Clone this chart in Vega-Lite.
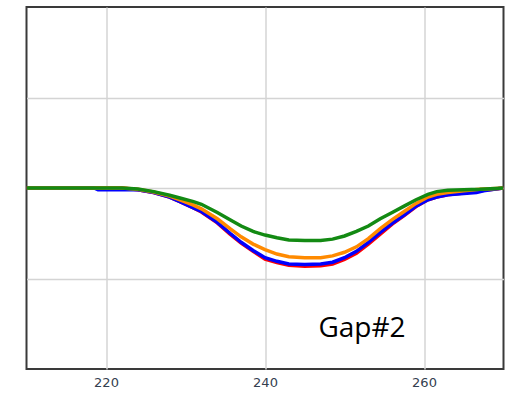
{
  "$schema": "https://vega.github.io/schema/vega-lite/v6.json",
  "width": 477,
  "height": 362,
  "autosize": {"type": "none"},
  "padding": {"left": 26.5, "top": 7, "right": 9.5, "bottom": 24},
  "background": "white",
  "config": {
    "view": {"stroke": "#3a3a3a", "strokeWidth": 2},
    "axis": {"gridColor": "#d4d4d4", "gridWidth": 1.5, "gridOpacity": 1}
  },
  "datasets": {
    "curves": [
      {"s": "r", "x": 210, "y": 0}, {"s": "r", "x": 222, "y": 0}, {"s": "r", "x": 224, "y": -0.02}, {"s": "r", "x": 226, "y": -0.05}, {"s": "r", "x": 228, "y": -0.1}, {"s": "r", "x": 229.3, "y": -0.15}, {"s": "r", "x": 231, "y": -0.22}, {"s": "r", "x": 232, "y": -0.265}, {"s": "r", "x": 234, "y": -0.385}, {"s": "r", "x": 235.6, "y": -0.51}, {"s": "r", "x": 237, "y": -0.61}, {"s": "r", "x": 238.5, "y": -0.7}, {"s": "r", "x": 240, "y": -0.785}, {"s": "r", "x": 241.5, "y": -0.825}, {"s": "r", "x": 243, "y": -0.855}, {"s": "r", "x": 245, "y": -0.865}, {"s": "r", "x": 247, "y": -0.86}, {"s": "r", "x": 248.5, "y": -0.84}, {"s": "r", "x": 250, "y": -0.79}, {"s": "r", "x": 251.5, "y": -0.72}, {"s": "r", "x": 253, "y": -0.62}, {"s": "r", "x": 254.5, "y": -0.51}, {"s": "r", "x": 256, "y": -0.4}, {"s": "r", "x": 257.5, "y": -0.305}, {"s": "r", "x": 259, "y": -0.205}, {"s": "r", "x": 260.5, "y": -0.13}, {"s": "r", "x": 261.6, "y": -0.1}, {"s": "r", "x": 263, "y": -0.075}, {"s": "r", "x": 265, "y": -0.055}, {"s": "r", "x": 267, "y": -0.03}, {"s": "r", "x": 269, "y": -0.01}, {"s": "r", "x": 270, "y": 0},
      {"s": "b", "x": 210, "y": 0}, {"s": "b", "x": 218.5, "y": 0}, {"s": "b", "x": 219, "y": -0.02}, {"s": "b", "x": 222, "y": -0.02}, {"s": "b", "x": 224, "y": -0.02}, {"s": "b", "x": 226, "y": -0.05}, {"s": "b", "x": 228, "y": -0.1}, {"s": "b", "x": 229.3, "y": -0.15}, {"s": "b", "x": 231, "y": -0.22}, {"s": "b", "x": 232, "y": -0.26}, {"s": "b", "x": 234, "y": -0.38}, {"s": "b", "x": 235.6, "y": -0.5}, {"s": "b", "x": 237, "y": -0.6}, {"s": "b", "x": 238.5, "y": -0.69}, {"s": "b", "x": 240, "y": -0.77}, {"s": "b", "x": 241.5, "y": -0.81}, {"s": "b", "x": 243, "y": -0.84}, {"s": "b", "x": 245, "y": -0.845}, {"s": "b", "x": 247, "y": -0.84}, {"s": "b", "x": 248.5, "y": -0.82}, {"s": "b", "x": 250, "y": -0.77}, {"s": "b", "x": 251.5, "y": -0.7}, {"s": "b", "x": 253, "y": -0.6}, {"s": "b", "x": 254.5, "y": -0.49}, {"s": "b", "x": 256, "y": -0.39}, {"s": "b", "x": 257.5, "y": -0.3}, {"s": "b", "x": 259, "y": -0.2}, {"s": "b", "x": 260.5, "y": -0.13}, {"s": "b", "x": 261.6, "y": -0.1}, {"s": "b", "x": 263, "y": -0.075}, {"s": "b", "x": 265, "y": -0.06}, {"s": "b", "x": 266.6, "y": -0.05}, {"s": "b", "x": 267.5, "y": -0.03}, {"s": "b", "x": 269, "y": -0.01}, {"s": "b", "x": 270, "y": 0},
      {"s": "o", "x": 210, "y": 0}, {"s": "o", "x": 222, "y": 0}, {"s": "o", "x": 224, "y": -0.015}, {"s": "o", "x": 226, "y": -0.045}, {"s": "o", "x": 228, "y": -0.09}, {"s": "o", "x": 229.3, "y": -0.13}, {"s": "o", "x": 231, "y": -0.19}, {"s": "o", "x": 232, "y": -0.23}, {"s": "o", "x": 234, "y": -0.34}, {"s": "o", "x": 235.6, "y": -0.45}, {"s": "o", "x": 237, "y": -0.54}, {"s": "o", "x": 238.5, "y": -0.62}, {"s": "o", "x": 240, "y": -0.68}, {"s": "o", "x": 241.5, "y": -0.73}, {"s": "o", "x": 243, "y": -0.76}, {"s": "o", "x": 245, "y": -0.77}, {"s": "o", "x": 247, "y": -0.77}, {"s": "o", "x": 248.5, "y": -0.75}, {"s": "o", "x": 250, "y": -0.71}, {"s": "o", "x": 251.5, "y": -0.65}, {"s": "o", "x": 253, "y": -0.56}, {"s": "o", "x": 254.5, "y": -0.45}, {"s": "o", "x": 256, "y": -0.35}, {"s": "o", "x": 257.5, "y": -0.26}, {"s": "o", "x": 259, "y": -0.17}, {"s": "o", "x": 260.5, "y": -0.1}, {"s": "o", "x": 261.6, "y": -0.07}, {"s": "o", "x": 263, "y": -0.05}, {"s": "o", "x": 265, "y": -0.03}, {"s": "o", "x": 267, "y": -0.015}, {"s": "o", "x": 269, "y": -0.005}, {"s": "o", "x": 270, "y": 0},
      {"s": "g", "x": 210, "y": 0}, {"s": "g", "x": 218, "y": 0}, {"s": "g", "x": 222, "y": 0}, {"s": "g", "x": 224, "y": -0.01}, {"s": "g", "x": 226, "y": -0.04}, {"s": "g", "x": 228, "y": -0.08}, {"s": "g", "x": 229.3, "y": -0.11}, {"s": "g", "x": 231, "y": -0.15}, {"s": "g", "x": 232, "y": -0.18}, {"s": "g", "x": 234, "y": -0.27}, {"s": "g", "x": 235.6, "y": -0.35}, {"s": "g", "x": 237, "y": -0.42}, {"s": "g", "x": 238.5, "y": -0.48}, {"s": "g", "x": 240, "y": -0.52}, {"s": "g", "x": 241.5, "y": -0.55}, {"s": "g", "x": 243, "y": -0.575}, {"s": "g", "x": 245, "y": -0.58}, {"s": "g", "x": 247, "y": -0.58}, {"s": "g", "x": 248.5, "y": -0.565}, {"s": "g", "x": 250, "y": -0.53}, {"s": "g", "x": 251.5, "y": -0.48}, {"s": "g", "x": 253, "y": -0.42}, {"s": "g", "x": 254.5, "y": -0.34}, {"s": "g", "x": 256, "y": -0.27}, {"s": "g", "x": 257.5, "y": -0.2}, {"s": "g", "x": 259, "y": -0.13}, {"s": "g", "x": 260.5, "y": -0.07}, {"s": "g", "x": 261.6, "y": -0.04}, {"s": "g", "x": 263, "y": -0.025}, {"s": "g", "x": 265, "y": -0.02}, {"s": "g", "x": 267, "y": -0.015}, {"s": "g", "x": 269, "y": -0.005}, {"s": "g", "x": 270, "y": 0}
    ],
    "labels": [{"x": 252.2, "y": -1.65, "t": "Gap#2"}]
  },
  "encoding": {
    "x": {"field": "x", "type": "quantitative", "scale": {"domain": [210, 270], "nice": false, "zero": false},
      "axis": {"title": null, "values": [220, 240, 260], "domain": false, "ticks": false, "labelPadding": 7, "labelFont": "DejaVu Sans", "labelFontSize": 13, "labelColor": "#34404f", "grid": true}},
    "y": {"field": "y", "type": "quantitative", "scale": {"domain": [-2, 2], "nice": false, "zero": false},
      "axis": {"title": null, "values": [-1, 0, 1], "domain": false, "ticks": false, "labels": false, "grid": true}}
  },
  "layer": [
    {"data": {"name": "curves"}, "transform": [{"filter": "datum.s === 'r'"}], "mark": {"type": "line", "color": "#ff0000", "strokeWidth": 3.5, "clip": true}},
    {"data": {"name": "curves"}, "transform": [{"filter": "datum.s === 'b'"}], "mark": {"type": "line", "color": "#0000ff", "strokeWidth": 3.5, "clip": true}},
    {"data": {"name": "curves"}, "transform": [{"filter": "datum.s === 'o'"}], "mark": {"type": "line", "color": "#ff8a00", "strokeWidth": 3.5, "clip": true}},
    {"data": {"name": "curves"}, "transform": [{"filter": "datum.s === 'g'"}], "mark": {"type": "line", "color": "#138a13", "strokeWidth": 3.5, "clip": true}},
    {"data": {"name": "labels"}, "mark": {"type": "text", "font": "Open Sans", "fontSize": 28, "align": "center", "baseline": "alphabetic", "color": "#000000"}, "encoding": {"text": {"field": "t"}}}
  ]
}
